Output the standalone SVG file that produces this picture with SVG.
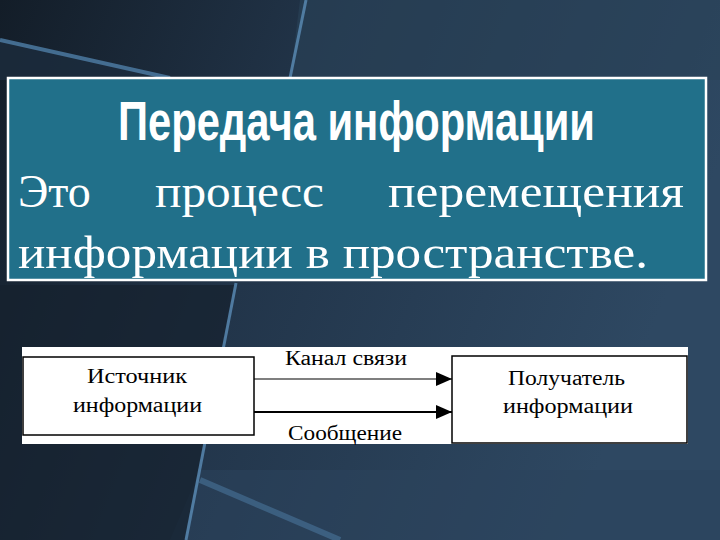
<svg xmlns="http://www.w3.org/2000/svg" width="720" height="540" viewBox="0 0 720 540">
  <defs>
    <linearGradient id="bg" x1="0" y1="0" x2="1" y2="0.3">
      <stop offset="0" stop-color="#131d28"/>
      <stop offset="0.45" stop-color="#22354a"/>
      <stop offset="1" stop-color="#2e4862"/>
    </linearGradient>
    <marker id="arr" markerUnits="userSpaceOnUse" markerWidth="16" markerHeight="14" refX="16" refY="7" orient="auto">
      <path d="M0,0 L16,7 L0,14 Z" fill="#000"/>
    </marker>
    <style>
      .title { font-family: "Liberation Sans", Arial, sans-serif; font-weight: bold; font-size: 55px; fill: #ffffff; }
      .body { font-family: "Liberation Serif", "Times New Roman", serif; font-size: 46px; fill: #ffffff; }
      .lbl { font-family: "Liberation Serif", "Times New Roman", serif; font-size: 20px; fill: #000000; }
      .node { fill: #ffffff; stroke: #000000; stroke-width: 1.5; }
      .edge { stroke: #000000; fill: none; }
    </style>
  </defs>

  <!-- background -->
  <rect x="0" y="0" width="720" height="540" fill="url(#bg)"/>
  <polygon points="300,0 720,0 720,80 290,80" fill="#2a4259" opacity="0.6"/>
  <polygon points="0,40 170,80 0,80" fill="#1c2c3d" opacity="0.8"/>
  <polygon points="200,470 720,470 720,540 170,540" fill="#2b445c" opacity="0.55"/>
  <polygon points="0,285 235,285 185,540 0,540" fill="#15212d" opacity="0.7"/>
  <line x1="0" y1="40" x2="170" y2="78" stroke="#4f7fa8" stroke-width="4" opacity="0.8"/>
  <line x1="306" y1="0" x2="290" y2="78" stroke="#5b8cb6" stroke-width="3" opacity="0.8"/>
  <line x1="236" y1="283" x2="186" y2="540" stroke="#5b8cb6" stroke-width="3" opacity="0.8"/>
  <line x1="200" y1="480" x2="340" y2="540" stroke="#4f7fa8" stroke-width="6" opacity="0.5"/>

  <!-- text panel -->
  <g id="panel">
    <rect x="8" y="78" width="698" height="202" fill="#21708a" stroke="#ffffff" stroke-width="2.5"/>
    <text class="title" transform="translate(118,140) scale(0.795,1)" x="0" y="0" textLength="600" lengthAdjust="spacingAndGlyphs">Передача информации</text>
    <text class="body" x="18" y="207">Это</text>
    <text class="body" x="155" y="207" textLength="169" lengthAdjust="spacingAndGlyphs">процесс</text>
    <text class="body" x="388" y="207" textLength="296" lengthAdjust="spacingAndGlyphs">перемещения</text>
    <text class="body" x="18" y="268" textLength="630" lengthAdjust="spacingAndGlyphs">информации в пространстве.</text>
  </g>

  <!-- diagram strip -->
  <rect x="22" y="347" width="666" height="97" fill="#ffffff"/>

  <g id="source">
    <rect class="node" x="23" y="357" width="231" height="78"/>
    <text class="lbl" x="87" y="383" textLength="100" lengthAdjust="spacingAndGlyphs">Источник</text>
    <text class="lbl" x="73" y="412" textLength="129" lengthAdjust="spacingAndGlyphs">информации</text>
  </g>

  <g id="receiver">
    <rect class="node" x="452" y="356" width="235" height="87"/>
    <text class="lbl" x="508" y="385" textLength="117" lengthAdjust="spacingAndGlyphs">Получатель</text>
    <text class="lbl" x="503" y="413" textLength="130" lengthAdjust="spacingAndGlyphs">информации</text>
  </g>

  <g id="connectors">
    <line class="edge" x1="254" y1="379" x2="452" y2="379" stroke-width="1.2" marker-end="url(#arr)"/>
    <line class="edge" x1="254" y1="412" x2="452" y2="412" stroke-width="2.2" marker-end="url(#arr)"/>
    <text class="lbl" x="285" y="365" textLength="122" lengthAdjust="spacingAndGlyphs">Канал связи</text>
    <text class="lbl" x="288" y="440" textLength="114" lengthAdjust="spacingAndGlyphs">Сообщение</text>
  </g>
</svg>
